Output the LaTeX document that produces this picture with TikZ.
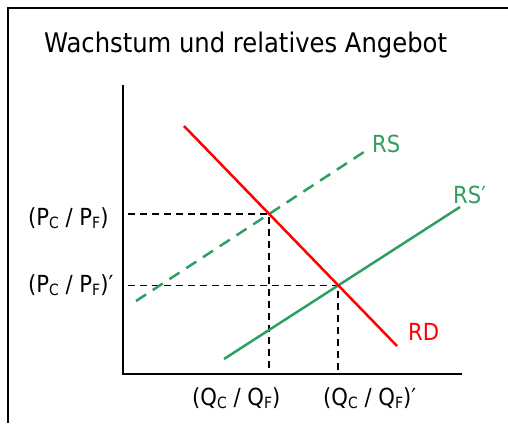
\documentclass[tikz,border=0pt]{standalone}
\usepackage{fontspec}
\setmainfont{DejaVu Sans Condensed}
\usetikzlibrary{calc}
\definecolor{rsgreen}{RGB}{46,158,98}
\newcommand{\lsub}[1]{\raisebox{-0.3ex}{\fontsize{15.5}{15.5}\selectfont #1}}
\begin{document}
\begin{tikzpicture}[x=1pt,y=-1pt,
  lbl/.style={inner sep=0pt, anchor=base west, font=\fontsize{23.5}{23.5}\selectfont},
  ttl/.style={inner sep=0pt, anchor=base west, font=\fontsize{27}{27}\selectfont},
  axisline/.style={line width=2pt, black},
  guide/.style={line width=1.8pt, black, dash pattern=on 7pt off 5pt},
  rdline/.style={line width=2.5pt, red},
  rsline/.style={line width=2.5pt, rsgreen}]
\useasboundingbox (0,0) rectangle (508,423);
\draw[line width=2pt] (8,423) -- (8,8) -- (508,8);
\node[ttl] (title) at (44,52) {Wachstum und relatives Angebot};
% axes
\coordinate (yt) at (123,85);
\coordinate (o) at (123,374);
\coordinate (xr) at (462,374);
\coordinate (ya) at (128,374);
\draw[axisline] (yt) -- (o) -- (xr);
% curves
\coordinate (rd1) at (184,126);
\coordinate (rd2) at (397,346);
\coordinate (rs1) at (136,301);
\coordinate (rs2) at (367,150);
\coordinate (rsp1) at (224,359);
\coordinate (rsp2) at (460,207);
\coordinate (E1) at (intersection of rd1--rd2 and rs1--rs2);
\coordinate (E2) at (intersection of rd1--rd2 and rsp1--rsp2);
\draw[guide] (E1 -| ya) -- (E1) -- (E1 |- o);
\draw[guide] (E2 -| ya) -- (E2) -- (E2 |- o);
\draw[rsline, dash pattern=on 12pt off 8pt] (rs1) -- (rs2);
\draw[rsline] (rsp1) -- (rsp2);
\draw[rdline] (rd1) -- (rd2);
% labels
\node[lbl, text=rsgreen] (lrs) at (372,152) {RS};
\node[lbl, text=rsgreen] (lrsp) at (453,203) {RS′};
\node[lbl, text=red] (lrd) at (408,340) {RD};
\node[lbl] (p1) at (28,225) {(P\lsub{C} / P\lsub{F})};
\node[lbl] (p2) at (28,292) {(P\lsub{C} / P\lsub{F})′};
\node[lbl] (q1) at (192,405) {(Q\lsub{C} / Q\lsub{F})};
\node[lbl] (q2) at (323,405) {(Q\lsub{C} / Q\lsub{F})′};
\end{tikzpicture}
\end{document}
